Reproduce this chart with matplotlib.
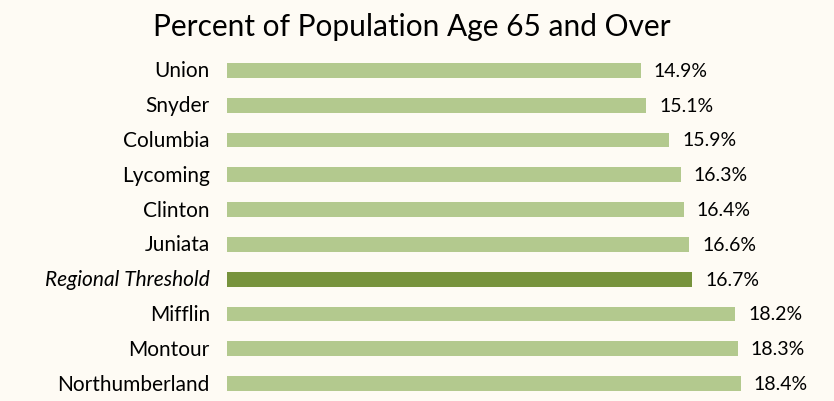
import matplotlib.pyplot as plt

# data
counties = ["Union", "Snyder", "Columbia", "Lycoming", "Clinton", "Juniata",
            "Regional Threshold", "Mifflin", "Montour", "Northumberland"]
values = [14.9, 15.1, 15.9, 16.3, 16.4, 16.6, 16.7, 18.2, 18.3, 18.4]
highlight = "Regional Threshold"

bg = "#FEFBF4"
light = "#B3C98E"
dark = "#77933C"

plt.rcParams['font.family'] = ['Lato', 'DejaVu Sans']

fig = plt.figure(figsize=(8.34, 4.02), dpi=100, facecolor=bg)
# axes placed so bars start at x=227px, rows centred 70..385px
ax = fig.add_axes([227 / 834, 0, 600 / 834, 348 / 402])
ax.set_facecolor(bg)

colors = [dark if c == highlight else light for c in counties]
pos = range(len(counties))
ax.barh(pos, values, height=0.43, color=colors)

for i, (c, v) in enumerate(zip(counties, values)):
    ax.text(v + 0.45, i, f"{v:.1f}%", va="center", ha="left", fontsize=14)
    style = "italic" if c == highlight else "normal"
    ax.text(-0.15, i, c, va="center", ha="right", fontsize=15, style=style)

ax.set_xlim(0.45, 0.45 + 600 / 28.63)
ax.set_ylim(-0.5 + 350 / 35, -0.5)
ax.axis("off")

# title: baseline at about y=36px
fig.text(412 / 834, 1 - 36 / 402, "Percent of Population Age 65 and Over",
         ha="center", va="baseline", fontsize=21.5)

fig.savefig("out.png", dpi=100, facecolor=bg)
